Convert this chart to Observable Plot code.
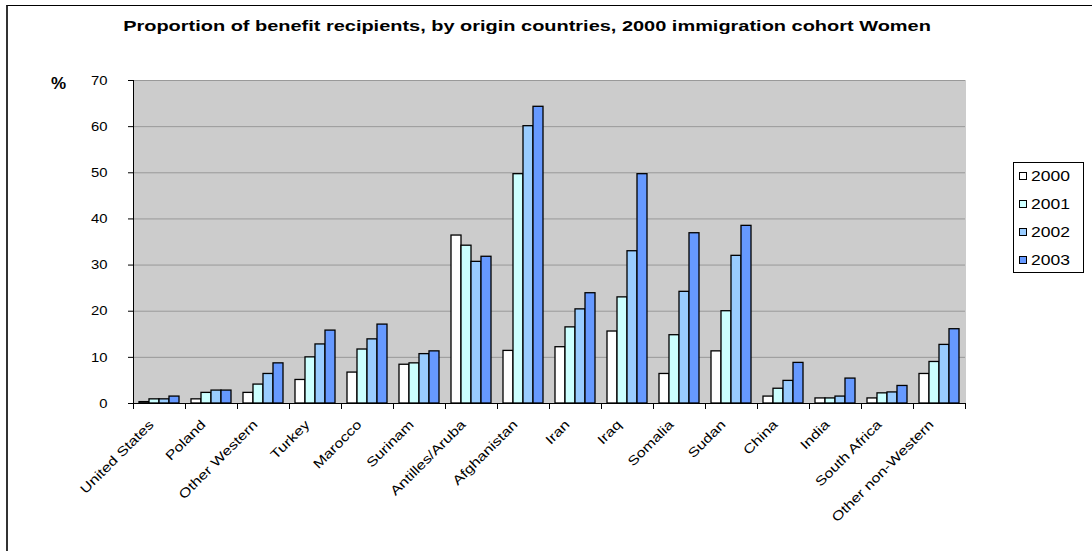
<!DOCTYPE html>
<html>
<head>
<meta charset="utf-8">
<script src="https://cdn.jsdelivr.net/npm/d3@7"></script>
<script src="https://cdn.jsdelivr.net/npm/@observablehq/plot@0.6"></script>
<style>
  body { margin: 0; background: #fff; font-family: Arial, "Liberation Sans", sans-serif; }
  #chart { position: relative; width: 1092px; height: 551px; overflow: hidden; }
  #chart svg { position: absolute; left: 0; top: 0; }
  #border { position: absolute; left: 6px; top: 5px; width: 1200px; height: 700px;
            border-left: 2px solid #333; border-top: 1px solid #000; }
  #title { position: absolute; top: 17px; left: 0; width: 1054px; text-align: center;
           font-weight: bold; font-size: 15px; transform: scaleX(1.33); transform-origin: 527px 0; white-space: nowrap; }
  #pct { position: absolute; left: 51px; top: 74px; font-weight: bold; font-size: 17px; }
  #legend { position: absolute; left: 1013px; top: 162px; width: 71px; height: 111px;
            border: 1px solid #000; box-sizing: border-box; background: #fff; }
  .item { position: absolute; left: 5px; font-size: 14px; line-height: 16px; white-space: nowrap; }
  .sw { display: inline-block; width: 6px; height: 6px; border: 1px solid #000;
        margin-right: 4px; vertical-align: 1px; }
  .lbl { display: inline-block; transform: scaleX(1.25); transform-origin: 0 0; }
</style>
</head>
<body>
<div id="chart">
  <div id="border"></div>
  <div id="title">Proportion of benefit recipients, by origin countries, 2000 immigration cohort Women</div>
  <div id="pct">%</div>
  <div id="legend"></div>
</div>
<script>
// Origin countries along the category axis
const countries = ["United States", "Poland", "Other Western", "Turkey", "Marocco", "Surinam",
  "Antilles/Aruba", "Afghanistan", "Iran", "Iraq", "Somalia", "Sudan", "China", "India",
  "South Africa", "Other non-Western"];

// Years shown as series, with their bar colours
const years = ["2000", "2001", "2002", "2003"];
const yearColors = ["#ffffff", "#ccffff", "#99ccff", "#6699ff"];

// Share of benefit recipients (%), one value per country
const v2000 = [0.3, 0.9, 2.3, 5.1, 6.7, 8.4, 36.4, 11.4, 12.2, 15.6, 6.4, 11.3, 1.5, 1.1, 1.1, 6.4];
const v2001 = [0.9, 2.3, 4.1, 10.0, 11.7, 8.7, 34.2, 49.7, 16.5, 23.0, 14.8, 20.0, 3.2, 1.1, 2.2, 9.0];
const v2002 = [0.9, 2.8, 6.4, 12.8, 13.9, 10.7, 30.7, 60.1, 20.4, 33.0, 24.2, 32.0, 4.9, 1.5, 2.4, 12.7];
const v2003 = [1.5, 2.8, 8.7, 15.8, 17.1, 11.3, 31.8, 64.3, 23.9, 49.7, 36.9, 38.5, 8.8, 5.4, 3.8, 16.1];

// Y axis tick values
const yTicks = [0, 10, 20, 30, 40, 50, 60, 70];

const series = [v2000, v2001, v2002, v2003];
const rows = countries.flatMap((c, i) =>
  years.map((y, j) => ({country: c, year: y, value: series[j][i]})));

const chart = Plot.plot({
  width: 1092,
  height: 551,
  marginLeft: 128,
  marginRight: 123,
  marginTop: 80,
  marginBottom: 148,
  style: {fontFamily: "Arial, 'Liberation Sans', sans-serif", fontSize: "13px", color: "#000", background: "transparent", overflow: "visible"},
  fx: {domain: countries, padding: 0, label: null, axis: null},
  x: {domain: years, paddingInner: 0, paddingOuter: 0.5, axis: null},
  y: {domain: [0, 70], label: null, axis: null},
  color: {domain: years, range: yearColors},
  marks: [
    // grey plot area
    Plot.frame({fill: "#cccccc", stroke: "#cccccc"}),
    Plot.gridY(yTicks, {stroke: "#999999", strokeOpacity: 1}),
    Plot.barY(rows, {fx: "country", x: "year", y: "value", fill: "year", stroke: "#000", strokeWidth: 1.3}),
    // category axis line and separators between countries
    Plot.ruleY([0], {stroke: "#000"}),
    Plot.frame({anchor: "left", insetTop: 323, insetBottom: -5, stroke: "#000"}),
    Plot.frame({anchor: "right", insetTop: 323, insetBottom: -5, stroke: "#000"}),
    // value axis
    Plot.frame({anchor: "left", facetAnchor: "left", stroke: "#000"}),
    Plot.axisY(yTicks, {tickSize: 5, tickPadding: 21, fontSize: 13, stroke: "#000"}),
    Plot.axisFx({anchor: "bottom", tickRotate: -45, tickSize: 0, tickPadding: 8, dx: -8, dy: 11, fontSize: 13, label: null})
  ]
});
document.getElementById("chart").appendChild(chart);

// widen the axis labels a little, as the chart's typeface is drawn wide
chart.querySelectorAll('g[aria-label="y-axis tick label"] text').forEach(t => {
  t.setAttribute("transform", (t.getAttribute("transform") || "") + " scale(1.14,1)");
});
chart.querySelectorAll('g[aria-label="fx-axis tick label"] text').forEach(t => {
  t.setAttribute("transform", (t.getAttribute("transform") || "") + " scale(1.25,1)");
});

// legend box on the right
const legend = document.getElementById("legend");
years.forEach((y, j) => {
  const item = document.createElement("div");
  item.className = "item";
  item.style.top = (5 + j * 28) + "px";
  item.innerHTML = `<span class="sw" style="background:${yearColors[j]}"></span><span class="lbl">${y}</span>`;
  legend.appendChild(item);
});
</script>
</body>
</html>
